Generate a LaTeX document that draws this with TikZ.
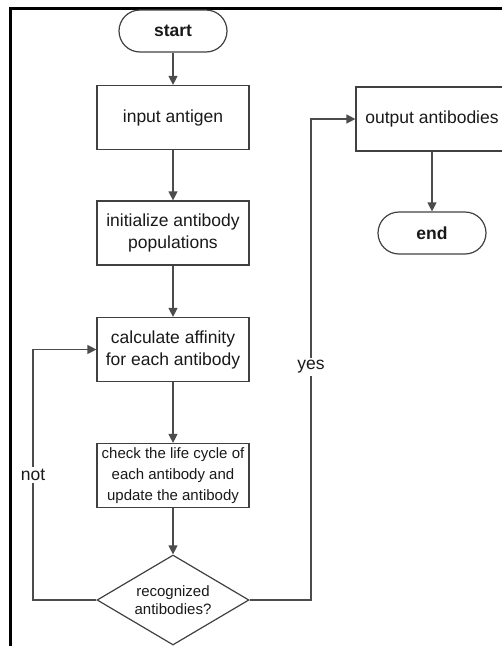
\documentclass[tikz,border=0pt]{standalone}
\usepackage{fontspec}
\setmainfont{Liberation Sans}
\usetikzlibrary{arrows.meta,shapes.geometric}
\begin{document}
\begin{tikzpicture}[x=1pt,y=-1pt,
  every node/.style={text=black!90},
  procbox/.style={draw=black!75,line width=1.2pt,minimum width=152pt,minimum height=64pt,inner sep=2pt,align=center,font=\fontsize{17.5}{22}\selectfont},
  terminal/.style={draw=black!75,line width=1.2pt,rounded corners=21pt,minimum width=108pt,minimum height=42pt,font=\fontsize{17.5}{20}\selectfont\bfseries},
  decision/.style={draw=black!75,line width=1.2pt,diamond,shape aspect=1.69,minimum width=152pt,minimum height=90pt,inner sep=0pt,align=center,font=\fontsize{15}{18}\selectfont},
  flow/.style={draw=black!70,line width=1.2pt,-{Triangle[length=9pt,width=9pt]}},
  branch/.style={fill=white,inner sep=2pt,font=\fontsize{17.5}{20}\selectfont}]
\clip (0,0) rectangle (502,646);
\useasboundingbox (0,0) rectangle (502,646);
% page frame
\draw[line width=2.5pt] (10.5,646) -- (10.5,8.5) -- (503,8.5);

% main column
\node[terminal] (start) at (173,31) {start};
\node[procbox] (input) at (173,117.5) {input antigen};
\node[procbox] (init) at (173,233) {initialize antibody\\populations};
\node[procbox] (calc) at (173,349.5) {calculate affinity\\for each antibody};
\node[procbox,font=\fontsize{15}{21}\selectfont] (check) at (173,475.5) {check the life cycle of\\each antibody and\\update the antibody};
\node[decision] (dec) at (173,600) {recognized\\antibodies?};

% right column
\node[procbox] (out) at (432,119) {output antibodies};
\node[terminal] (end) at (432,233) {end};

% connectors
\draw[flow] (start) -- (input);
\draw[flow] (input) -- (init);
\draw[flow] (init) -- (calc);
\draw[flow] (calc) -- (check);
\draw[flow] (check) -- (dec);
\draw[flow] (out) -- (end);

\coordinate (notcorner) at (33,600);
\coordinate (yescorner) at (311,600);
\draw[flow] (dec.west) -- (notcorner) |- (calc.west);
\draw[flow] (dec.east) -- (yescorner) |- (out.west);
\node[branch] (notlabel) at (33,475) {not};
\node[branch] (yeslabel) at (311,367) {yes};
\end{tikzpicture}
\end{document}
